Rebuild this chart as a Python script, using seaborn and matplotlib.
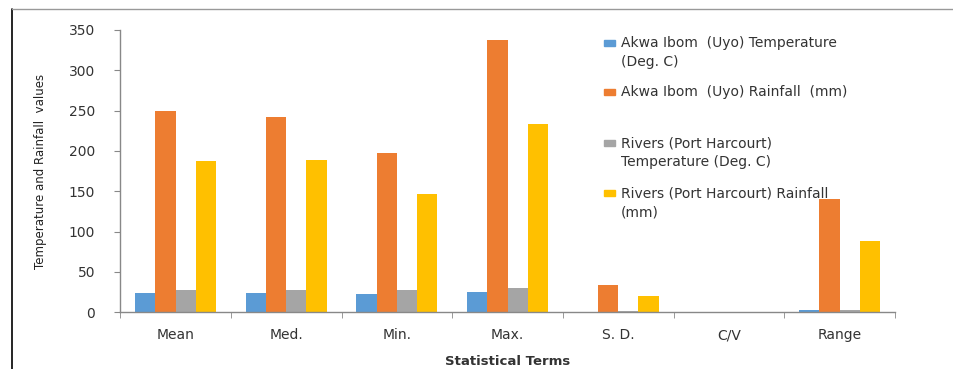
import matplotlib.pyplot as plt
import seaborn as sns
import pandas as pd

sns.set_style("white")
plt.rcParams["font.family"] = ["DejaVu Sans"]

terms = ["Mean", "Med.", "Min.", "Max.", "S. D.", "C/V", "Range"]
series = ["Akwa Ibom (Uyo) Temperature (Deg. C)",
          "Akwa Ibom (Uyo) Rainfall (mm)",
          "Rivers (Port Harcourt) Temperature (Deg. C)",
          "Rivers (Port Harcourt) Rainfall (mm)"]
# legend text as it is wrapped in the picture
legend_lines = [["Akwa Ibom  (Uyo) Temperature", "(Deg. C)"],
                ["Akwa Ibom  (Uyo) Rainfall  (mm)"],
                ["Rivers (Port Harcourt)", "Temperature (Deg. C)"],
                ["Rivers (Port Harcourt) Rainfall", "(mm)"]]
uyo_temp = [23.5, 23.5, 23.0, 25.0, 0.8, 0.03, 2.5]
uyo_rain = [249, 242, 197, 337, 34, 0.14, 140]
ph_temp = [27.0, 27.0, 27.0, 29.5, 0.9, 0.03, 3.0]
ph_rain = [187, 189, 146, 233, 20, 0.11, 88]
colors = ["#5B9BD5", "#ED7D31", "#A5A5A5", "#FFC000"]

rows = []
for name, vals in zip(series, [uyo_temp, uyo_rain, ph_temp, ph_rain]):
    for t, v in zip(terms, vals):
        rows.append({"term": t, "series": name, "value": v})
df = pd.DataFrame(rows)

fig = plt.figure(figsize=(9.54, 3.69), dpi=100)
ax = fig.add_axes([0.126, 0.154, 0.812, 0.765])
sns.barplot(data=df, x="term", y="value", hue="series", palette=colors,
            saturation=1, width=0.73, linewidth=0, ax=ax, legend=False)

ax.set_ylim(0, 350)
ax.set_yticks(range(0, 351, 50))
ax.set_xlim(-0.5, 6.5)
for s in ["top", "right"]:
    ax.spines[s].set_visible(False)
for s in ["left", "bottom"]:
    ax.spines[s].set_color("#888888")
    ax.spines[s].set_linewidth(1)
ax.tick_params(axis="y", left=True, length=4, color="#888888", labelsize=10,
               labelcolor="#333333", pad=14)
ax.tick_params(axis="x", bottom=False, labelsize=10, labelcolor="#333333", pad=8)
ax.set_xticks([i + 0.5 for i in range(-1, 7)], minor=True)
ax.tick_params(axis="x", which="minor", bottom=True, length=4, color="#888888")

ax.set_xlabel("Statistical Terms", fontsize=9.5, fontweight="bold", color="#333333",
              labelpad=9)
ax.set_ylabel("Temperature and Rainfall  values", fontsize=8.5, color="#222222",
              fontfamily="Liberation Sans Narrow", labelpad=16)

# legend drawn by hand: marker beside the first line, as in the picture
def ax_xy(px, py):
    return (px - 120) / 775, (312 - py) / 282

entry_y = [43, 92, 143, 193]
for lines, col, ey in zip(legend_lines, colors, entry_y):
    rx, ry = ax_xy(604, ey + 3)
    ax.add_patch(plt.Rectangle((rx, ry), 11 / 775, 6 / 282, color=col,
                               transform=ax.transAxes, zorder=0.5, clip_on=False))
    for k, line in enumerate(lines):
        tx, ty = ax_xy(621, ey + 19 * k)
        ax.text(tx, ty, line, transform=ax.transAxes, fontsize=10,
                color="#333333", va="center", ha="left", zorder=0.5)

# chart frame lines
fig.add_artist(plt.Line2D([0.013, 0.013], [0.0, 0.975], color="black", lw=1.2))
fig.add_artist(plt.Line2D([0.013, 1.0], [0.975, 0.975], color="#999999", lw=1))

fig.savefig("out.png", dpi=100)
